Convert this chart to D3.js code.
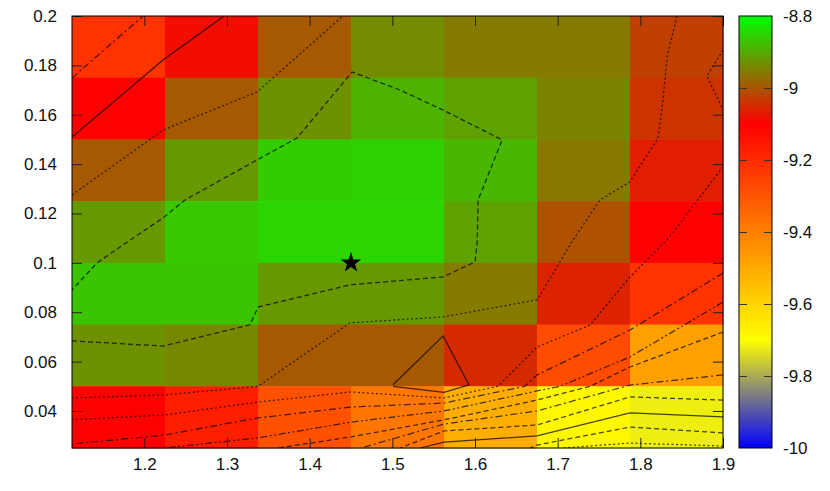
<!DOCTYPE html>
<html>
<head>
<meta charset="utf-8">
<script src="https://cdn.jsdelivr.net/npm/d3@7"></script>
<style>
  body { margin: 0; background: #fff; }
  text { font-family: "Liberation Sans", Arial, sans-serif; }
</style>
</head>
<body>
<div class="viewbox"></div>
<script>
// grid edges of the map (cells sit between these)
const xEdges = [1.1125, 1.225, 1.3375, 1.45, 1.5625, 1.675, 1.7875, 1.9];
const yEdges = [0.2, 0.175, 0.15, 0.125, 0.1, 0.075, 0.05, 0.025];

// cell values, top row first
const cellValues = [
  [-9.22, -9.085, -8.995, -8.935, -8.955, -8.955, -9.025],
  [-9.10, -8.995, -8.93, -8.89, -8.91, -8.945, -9.04],
  [-8.995, -8.92, -8.86, -8.855, -8.885, -8.96, -9.065],
  [-8.92, -8.865, -8.85, -8.85, -8.91, -9.005, -9.10],
  [-8.87, -8.87, -8.92, -8.92, -8.955, -9.06, -9.22],
  [-8.93, -8.94, -8.995, -8.995, -9.05, -9.28, -9.475],
  [-9.10, -9.17, -9.29, -9.38, -9.51, -9.68, -9.72]
];

const xTicks = [1.2, 1.3, 1.4, 1.5, 1.6, 1.7, 1.8, 1.9];
const xTickLabels = ["1.2", "1.3", "1.4", "1.5", "1.6", "1.7", "1.8", "1.9"];
const yTicks = [0.04, 0.06, 0.08, 0.1, 0.12, 0.14, 0.16, 0.18, 0.2];
const yTickLabels = ["0.04", "0.06", "0.08", "0.1", "0.12", "0.14", "0.16", "0.18", "0.2"];
const cbTicks = [-10, -9.8, -9.6, -9.4, -9.2, -9, -8.8];
const cbTickLabels = ["-10", "-9.8", "-9.6", "-9.4", "-9.2", "-9", "-8.8"];

// palette anchor values and colours
const paletteValues = [-10, -9.7, -9.1, -8.8];
const paletteColors = ["#0000ff", "#ffff00", "#ff0000", "#00ff00"];

// the optimum marker
const bestPoint = [1.45, 0.1];

// contour lines as [x, y]
const cA = [[1.1125, 0.1749], [1.1984, 0.2]];
const cB = [[1.1125, 0.151], [1.2226, 0.1822], [1.2964, 0.2]];
const cC = [[1.1125, 0.1275], [1.2226, 0.1538], [1.3363, 0.1692], [1.4403, 0.2]];
const cD = [[1.1125, 0.0684], [1.2226, 0.0663], [1.3279, 0.0749], [1.3376, 0.0821], [1.4489, 0.0911],
  [1.5614, 0.0943], [1.6001, 0.1004], [1.6026, 0.1081], [1.6038, 0.1255], [1.6328, 0.1498],
  [1.5614, 0.1619], [1.5094, 0.17], [1.4513, 0.1773], [1.3848, 0.1506], [1.3364, 0.1417],
  [1.2492, 0.1255], [1.2226, 0.1182], [1.167, 0.1056], [1.1428, 0.1], [1.1125, 0.089]];
const cE = [[1.8444, 0.2], [1.8323, 0.1834], [1.8275, 0.166], [1.8214, 0.1506], [1.7875, 0.1328],
  [1.7514, 0.1255], [1.7187, 0.1093], [1.6752, 0.085], [1.5614, 0.0781], [1.4489, 0.0757],
  [1.3376, 0.05], [1.225, 0.0465], [1.1137, 0.0453]];
const cF = [[1.5009, 0.0506], [1.5614, 0.0704], [1.5927, 0.0506], [1.5625, 0.0475], [1.5009, 0.05]];
const cG = [[1.9, 0.1862], [1.8806, 0.1757], [1.9, 0.1619]];
const cH = [[1.9, 0.1388], [1.8323, 0.1093], [1.7875, 0.0943], [1.7392, 0.0748], [1.675, 0.0659],
  [1.6278, 0.05], [1.5625, 0.0453], [1.45, 0.0477], [1.3375, 0.0436], [1.225, 0.0384], [1.1125, 0.0364]];
const cI = [[1.9, 0.0959], [1.7875, 0.0728], [1.675, 0.0546], [1.6605, 0.05], [1.5625, 0.0432],
  [1.45, 0.0416], [1.3375, 0.0372], [1.225, 0.0303], [1.1125, 0.0266]];
const cJ = [[1.9, 0.0841], [1.7875, 0.0619], [1.7029, 0.05], [1.675, 0.0481], [1.5625, 0.04],
  [1.45, 0.0355], [1.3375, 0.0291], [1.225, 0.025]];
const cK = [[1.9, 0.072], [1.7875, 0.0578], [1.7392, 0.05], [1.675, 0.0444], [1.5625, 0.0364],
  [1.45, 0.0295], [1.3617, 0.025]];
const cL = [[1.9, 0.0546], [1.7875, 0.0505], [1.675, 0.04], [1.5625, 0.0347], [1.4621, 0.025]];
const cM = [[1.9, 0.0444], [1.7875, 0.0457], [1.675, 0.0343], [1.5625, 0.0319], [1.5094, 0.025]];
const cN = [[1.9, 0.0376], [1.7875, 0.0392], [1.675, 0.0299], [1.5625, 0.0274], [1.5335, 0.025]];
const cO = [[1.9, 0.0311], [1.7875, 0.0335], [1.675, 0.0262], [1.6665, 0.025]];
const cP = [[1.9, 0.0258], [1.7875, 0.027], [1.7065, 0.025]];

const svg_width = 830;
const svg_height = 491;

const plot = { left: 72, right: 723, top: 16, bottom: 448 };
const bar = { left: 739, right: 772 };

let svg = d3.select(".viewbox")
  .append("svg")
  .attr("width", svg_width)
  .attr("height", svg_height);

let x = d3.scaleLinear().domain([xEdges[0], xEdges[xEdges.length - 1]]).range([plot.left, plot.right]);
let y = d3.scaleLinear().domain([yEdges[yEdges.length - 1], yEdges[0]]).range([plot.bottom, plot.top]);
let color = d3.scaleLinear().domain(paletteValues).range(paletteColors);
let cb = d3.scaleLinear().domain([cbTicks[0], cbTicks[cbTicks.length - 1]]).range([plot.bottom, plot.top]);

// heat map cells
let cells = [];
cellValues.forEach((row, r) => row.forEach((v, c) => cells.push({ r, c, v })));

svg.append("g").selectAll("rect")
  .data(cells)
  .enter()
  .append("rect")
  .attr("x", d => x(xEdges[d.c]))
  .attr("y", d => y(yEdges[d.r]))
  .attr("width", d => x(xEdges[d.c + 1]) - x(xEdges[d.c]) + 0.5)
  .attr("height", d => y(yEdges[d.r + 1]) - y(yEdges[d.r]) + 0.5)
  .attr("fill", d => color(d.v));

// contours - gnuplot cycles the dash type per level
const contours = [cA, cB, cC, cD, cE, cF, cG, cH, cI, cJ, cK, cL, cM, cN, cO, cP];
const dashes = {
  solid: null,
  dot: "2,2.5",
  dash: "5,3",
  dashdot: "7,3,2,3",
  dashdotdot: "7,2.5,2,2.5,2,2.5"
};
const contourDash = ["dashdot", "solid", "dot", "dash", "dot", "solid", "dot", "dot",
  "dashdot", "dashdotdot", "dash", "dashdot", "dash", "solid", "dash", "dot"];

svg.append("clipPath").attr("id", "clip")
  .append("rect")
  .attr("x", plot.left).attr("y", plot.top)
  .attr("width", plot.right - plot.left).attr("height", plot.bottom - plot.top);

let line = d3.line().x(d => x(d[0])).y(d => y(d[1]));

svg.append("g")
  .attr("clip-path", "url(#clip)")
  .selectAll("path")
  .data(contours)
  .enter()
  .append("path")
  .attr("d", line)
  .attr("fill", "none")
  .attr("stroke", "#000")
  .attr("stroke-opacity", 0.72)
  .attr("stroke-width", 1.25)
  .attr("stroke-dasharray", (d, i) => dashes[contourDash[i]]);

// star at the best point
svg.append("path")
  .attr("d", d3.symbol().type(d3.symbolStar).size(130))
  .attr("transform", `translate(${x(bestPoint[0])},${y(bestPoint[1])})`)
  .attr("fill", "#000");

// axes, ticks point inward on every side like gnuplot
const tickLen = 10;
const fontSize = "17px";

let axLeft = svg.append("g")
  .attr("transform", `translate(${plot.left},0)`)
  .call(d3.axisLeft(y).tickValues(yTicks).tickFormat((d, i) => yTickLabels[i])
    .tickSizeInner(-tickLen).tickSizeOuter(0).tickPadding(15));
let axRight = svg.append("g")
  .attr("transform", `translate(${plot.right},0)`)
  .call(d3.axisRight(y).tickValues(yTicks).tickFormat("")
    .tickSizeInner(-tickLen).tickSizeOuter(0));
let axBottom = svg.append("g")
  .attr("transform", `translate(0,${plot.bottom})`)
  .call(d3.axisBottom(x).tickValues(xTicks).tickFormat((d, i) => xTickLabels[i])
    .tickSizeInner(-tickLen).tickSizeOuter(0).tickPadding(10));
let axTop = svg.append("g")
  .attr("transform", `translate(0,${plot.top})`)
  .call(d3.axisTop(x).tickValues(xTicks).tickFormat("")
    .tickSizeInner(-tickLen).tickSizeOuter(0));

[axLeft, axRight, axBottom, axTop].forEach(g => {
  g.select(".domain").remove();
  g.selectAll(".tick line").attr("stroke", "#222");
  g.selectAll(".tick text").attr("font-size", fontSize).attr("fill", "#111");
});

svg.append("rect")
  .attr("x", plot.left).attr("y", plot.top)
  .attr("width", plot.right - plot.left).attr("height", plot.bottom - plot.top)
  .attr("fill", "none").attr("stroke", "#000").attr("stroke-width", 1);

// colour box
let grad = svg.append("defs").append("linearGradient")
  .attr("id", "cbgrad")
  .attr("x1", 0).attr("y1", 1).attr("x2", 0).attr("y2", 0);
grad.selectAll("stop")
  .data(paletteValues)
  .enter()
  .append("stop")
  .attr("offset", d => (d - cbTicks[0]) / (cbTicks[cbTicks.length - 1] - cbTicks[0]))
  .attr("stop-color", d => color(d));

svg.append("rect")
  .attr("x", bar.left).attr("y", plot.top)
  .attr("width", bar.right - bar.left).attr("height", plot.bottom - plot.top)
  .attr("fill", "url(#cbgrad)")
  .attr("stroke", "#000").attr("stroke-width", 1);

let cbAxis = svg.append("g")
  .attr("transform", `translate(${bar.right},0)`)
  .call(d3.axisRight(cb).tickValues(cbTicks).tickFormat((d, i) => cbTickLabels[i])
    .tickSizeInner(-8).tickSizeOuter(0).tickPadding(11));
let cbAxisL = svg.append("g")
  .attr("transform", `translate(${bar.left},0)`)
  .call(d3.axisLeft(cb).tickValues(cbTicks.slice(1, -1)).tickFormat("")
    .tickSizeInner(-8).tickSizeOuter(0));

[cbAxis, cbAxisL].forEach(g => {
  g.select(".domain").remove();
  g.selectAll(".tick line").attr("stroke", "#333");
  g.selectAll(".tick text").attr("font-size", fontSize).attr("fill", "#111");
});
cbAxis.selectAll(".tick line").filter((d, i) => i === 0 || i === cbTicks.length - 1).remove();
</script>
</body>
</html>
